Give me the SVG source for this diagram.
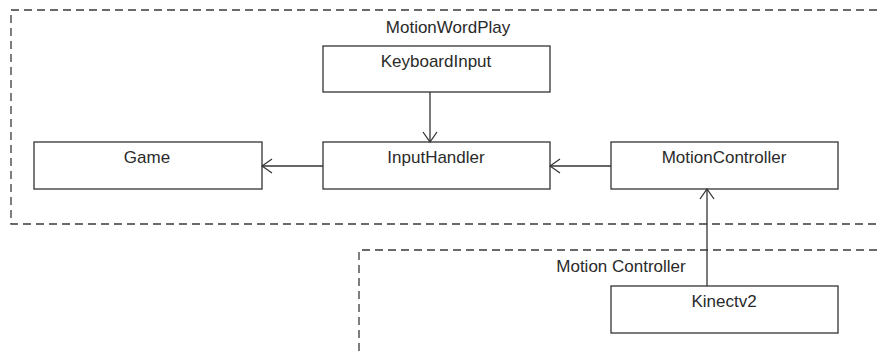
<svg xmlns="http://www.w3.org/2000/svg" width="877" height="356" viewBox="0 0 877 356">
  <style>
    .frame { fill: none; stroke: #3a3a3a; stroke-width: 1.3; stroke-dasharray: 8 5; }
    .box { fill: #ffffff; stroke: #333333; stroke-width: 1.3; }
    .lbl { font-family: "Liberation Sans", Arial, sans-serif; font-size: 17px; fill: #2a2a2a; text-anchor: middle; }
    .edge { fill: none; stroke: #333333; stroke-width: 1.3; }
  </style>
  <defs>
    <marker id="open" viewBox="0 0 12 16" refX="11" refY="8" markerWidth="12" markerHeight="16" markerUnits="userSpaceOnUse" orient="auto">
      <path d="M1,1 L11,8 L1,15" fill="none" stroke="#333333" stroke-width="1.3"/>
    </marker>
  </defs>
  <rect width="877" height="356" fill="#ffffff"/>

  <!-- packages -->
  <g id="pkg-motionwordplay">
    <path class="frame" d="M890,10 H11 V224 H890"/>
    <text class="lbl" x="448" y="33">MotionWordPlay</text>
  </g>
  <g id="pkg-motion-controller">
    <path class="frame" d="M890,250 H359 V370"/>
    <text class="lbl" x="621" y="272">Motion Controller</text>
  </g>

  <!-- classes -->
  <g id="keyboard-input">
    <rect class="box" x="323" y="46" width="227" height="46"/>
    <text class="lbl" x="436" y="67">KeyboardInput</text>
  </g>
  <g id="game">
    <rect class="box" x="34" y="142" width="228" height="47"/>
    <text class="lbl" x="147" y="163">Game</text>
  </g>
  <g id="input-handler">
    <rect class="box" x="323" y="142" width="227" height="47"/>
    <text class="lbl" x="436" y="163">InputHandler</text>
  </g>
  <g id="motion-controller">
    <rect class="box" x="611" y="142" width="227" height="47"/>
    <text class="lbl" x="724" y="163">MotionController</text>
  </g>
  <g id="kinectv2">
    <rect class="box" x="611" y="286" width="227" height="47"/>
    <text class="lbl" x="724" y="307">Kinectv2</text>
  </g>

  <!-- dependencies -->
  <g id="connectors">
    <line class="edge" x1="430" y1="92" x2="430" y2="142" marker-end="url(#open)"/>
    <line class="edge" x1="323" y1="166" x2="262" y2="166" marker-end="url(#open)"/>
    <line class="edge" x1="611" y1="166" x2="550" y2="166" marker-end="url(#open)"/>
    <line class="edge" x1="707" y1="286" x2="707" y2="189" marker-end="url(#open)"/>
  </g>
</svg>
